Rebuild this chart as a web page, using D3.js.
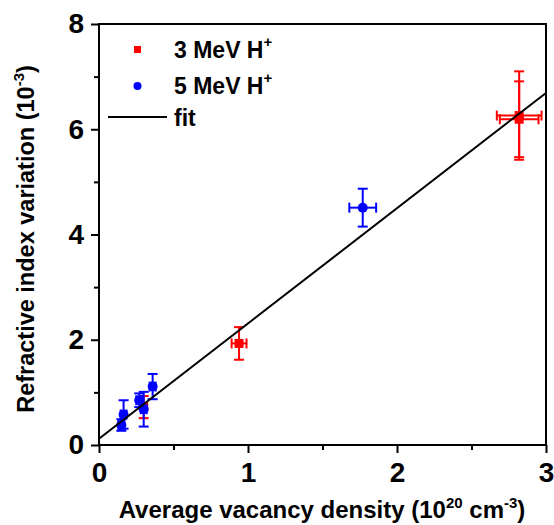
<!DOCTYPE html>
<html>
<head>
<meta charset="utf-8">
<script src="https://cdn.jsdelivr.net/npm/d3@7"></script>
<style>
  body { margin: 0; background: #fff; }
  text { font-family: Arial, "Liberation Sans", sans-serif; font-weight: bold; }
</style>
</head>
<body>
<div id="viz"></div>
<script>
// 3 MeV H+ points: x, y, x error, y error
const redX = [0.30, 0.94, 2.82, 2.82];
const redY = [0.72, 1.93, 6.26, 6.19];
const redXErr = [0.02, 0.05, 0.15, 0.13];
const redYErr = [0.21, 0.31, 0.84, 0.72];

// 5 MeV H+ points
const blueX = [0.15, 0.165, 0.27, 0.30, 0.36, 1.77];
const blueY = [0.38, 0.58, 0.85, 0.68, 1.11, 4.51];
const blueXErr = [0.02, 0.02, 0.02, 0.02, 0.02, 0.09];
const blueYErr = [0.11, 0.27, 0.13, 0.33, 0.24, 0.36];

// linear fit
const fitIntercept = 0.12;
const fitSlope = 2.19;

const xTicks = [0, 1, 2, 3];
const xMinor = [0.5, 1.5, 2.5];
const yTicks = [0, 2, 4, 6, 8];
const yMinor = [1, 3, 5, 7];

const width = 554, height = 525;
const margin = { left: 99, right: 8, top: 24, bottom: 80 };

const svg = d3.select('#viz').append('svg')
  .attr('width', width)
  .attr('height', height);

const x = d3.scaleLinear().domain([0, 3]).range([margin.left, width - margin.right]);
const y = d3.scaleLinear().domain([0, 8]).range([height - margin.bottom, margin.top]);

function toPoints(xs, ys, xe, ye) {
  return xs.map((v, i) => ({ x: v, y: ys[i], xe: xe[i], ye: ye[i] }));
}
const red = toPoints(redX, redY, redXErr, redYErr);
const blue = toPoints(blueX, blueY, blueXErr, blueYErr);

function drawErrors(pts, color) {
  const g = svg.append('g').attr('stroke', color).attr('stroke-width', 2).attr('fill', 'none');
  const cap = 5;
  pts.forEach(p => {
    const cx = x(p.x), cy = y(p.y);
    const y1 = y(p.y + p.ye), y2 = y(p.y - p.ye);
    const x1 = x(p.x - p.xe), x2 = x(p.x + p.xe);
    g.append('line').attr('x1', cx).attr('x2', cx).attr('y1', y1).attr('y2', y2);
    g.append('line').attr('x1', cx - cap).attr('x2', cx + cap).attr('y1', y1).attr('y2', y1);
    g.append('line').attr('x1', cx - cap).attr('x2', cx + cap).attr('y1', y2).attr('y2', y2);
    g.append('line').attr('x1', x1).attr('x2', x2).attr('y1', cy).attr('y2', cy);
    g.append('line').attr('x1', x1).attr('x2', x1).attr('y1', cy - cap).attr('y2', cy + cap);
    g.append('line').attr('x1', x2).attr('x2', x2).attr('y1', cy - cap).attr('y2', cy + cap);
  });
}

drawErrors(red, '#ff0000');
svg.append('g').selectAll('rect').data(red).join('rect')
  .attr('x', d => x(d.x) - 4.5).attr('y', d => y(d.y) - 4.5)
  .attr('width', 9).attr('height', 9)
  .attr('fill', '#ff0000');

drawErrors(blue, '#0000ff');
svg.append('g').selectAll('circle').data(blue).join('circle')
  .attr('cx', d => x(d.x)).attr('cy', d => y(d.y)).attr('r', 5)
  .attr('fill', '#0000ff');

// fit line
svg.append('line')
  .attr('x1', x(0)).attr('y1', y(fitIntercept))
  .attr('x2', x(3)).attr('y2', y(fitIntercept + fitSlope * 3))
  .attr('stroke', '#000').attr('stroke-width', 2);

// frame
svg.append('rect')
  .attr('x', x(0)).attr('y', y(8))
  .attr('width', x(3) - x(0)).attr('height', y(0) - y(8))
  .attr('fill', 'none').attr('stroke', '#000').attr('stroke-width', 2);

// axes
const xAxis = svg.append('g').attr('transform', `translate(0,${y(0)})`);
xAxis.call(d3.axisBottom(x).tickValues(xMinor).tickSize(5).tickFormat(''));
xAxis.append('g').call(d3.axisBottom(x).tickValues(xTicks).tickSize(8).tickPadding(9).tickFormat(d3.format('d')));
const yAxis = svg.append('g').attr('transform', `translate(${x(0)},0)`);
yAxis.call(d3.axisLeft(y).tickValues(yMinor).tickSize(5).tickFormat(''));
yAxis.append('g').call(d3.axisLeft(y).tickValues(yTicks).tickSize(8).tickPadding(7).tickFormat(d3.format('d')));

svg.selectAll('.domain').remove();
svg.selectAll('.tick line').attr('stroke', '#000').attr('stroke-width', 2);
svg.selectAll('.tick text')
  .attr('font-size', 28).attr('font-weight', 'bold').attr('fill', '#000')
  .attr('font-family', 'Arial, "Liberation Sans", sans-serif');

// axis titles
const xt = svg.append('text')
  .attr('x', 322).attr('y', 518)
  .attr('text-anchor', 'middle')
  .attr('font-size', 24);
xt.append('tspan').text('Average vacancy density (10');
xt.append('tspan').attr('dy', -10).attr('font-size', 15).text('20');
xt.append('tspan').attr('dy', 10).text(' cm');
xt.append('tspan').attr('dy', -10).attr('font-size', 15).text('-3');
xt.append('tspan').attr('dy', 10).text(')');

const yt = svg.append('text')
  .attr('transform', 'translate(34,239) rotate(-90)')
  .attr('text-anchor', 'middle')
  .attr('font-size', 23.5);
yt.append('tspan').text('Refractive index variation (10');
yt.append('tspan').attr('dy', -10).attr('font-size', 15).text('-3');
yt.append('tspan').attr('dy', 10).text(')');

// legend
const legend = svg.append('g');
legend.append('rect').attr('x', 134).attr('y', 46).attr('width', 7).attr('height', 7).attr('fill', '#ff0000');
legend.append('circle').attr('cx', 137.5).attr('cy', 86).attr('r', 4).attr('fill', '#0000ff');
legend.append('line').attr('x1', 108).attr('x2', 167).attr('y1', 117).attr('y2', 117)
  .attr('stroke', '#000').attr('stroke-width', 2);

function legendText(ty, label, sup) {
  const t = legend.append('text').attr('x', 174).attr('y', ty).attr('font-size', 23);
  t.append('tspan').text(label);
  if (sup) t.append('tspan').attr('dy', -11).attr('font-size', 15).text(sup);
}
legendText(58, '3 MeV H', '+');
legendText(94, '5 MeV H', '+');
legendText(126, 'fit');
</script>
</body>
</html>
